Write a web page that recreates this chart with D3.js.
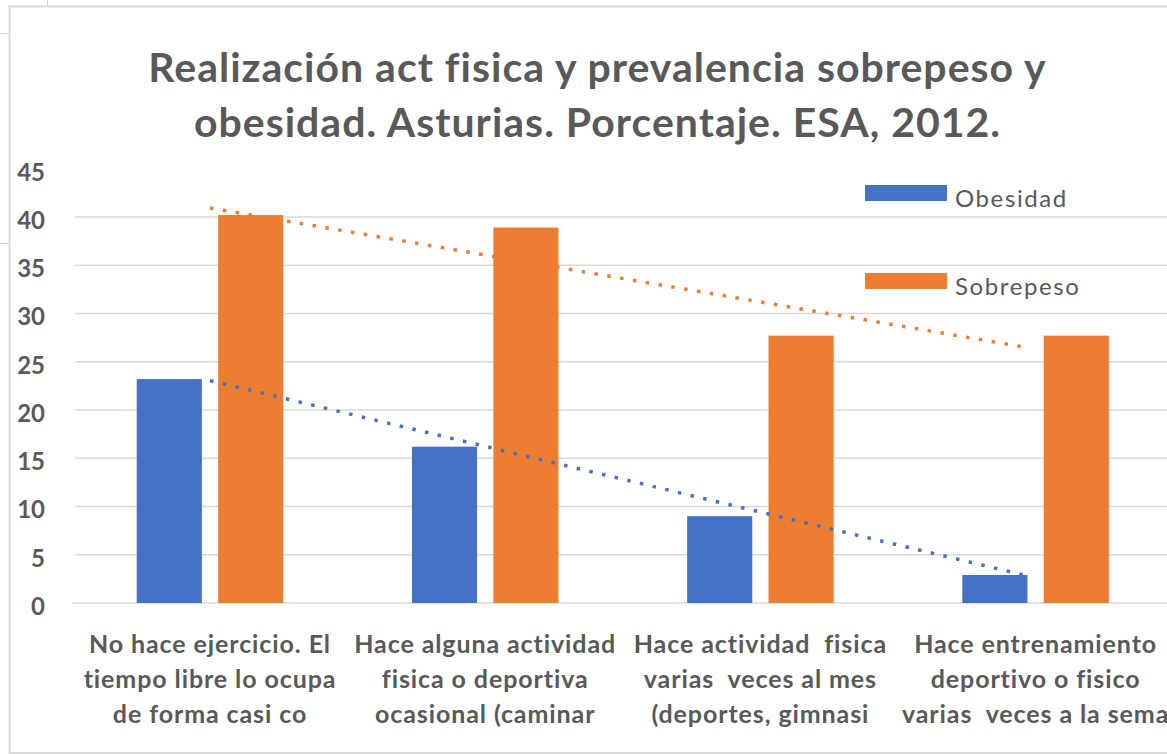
<!DOCTYPE html>
<html>
<head>
<meta charset="utf-8">
<script src="https://cdn.jsdelivr.net/npm/d3@7"></script>
<style>
  html, body { margin: 0; padding: 0; background: #fff; overflow: hidden; }
  svg { display: block; font-family: Lato, "Open Sans", sans-serif; }
</style>
</head>
<body>
<svg id="chart"></svg>
<script>
// data
const categories = [
  ["No hace ejercicio. El", "tiempo libre lo ocupa", "de forma casi co"],
  ["Hace alguna actividad", "fisica o deportiva", "ocasional (caminar"],
  ["Hace actividad  fisica", "varias  veces al mes", "(deportes, gimnasi"],
  ["Hace entrenamiento", "deportivo o fisico", "varias  veces a la sema"]
];
const series = ["Obesidad", "Sobrepeso"];
const obesidad = [23.2, 16.2, 9.0, 2.9];
const sobrepeso = [40.2, 38.9, 27.7, 27.7];
const yTicks = [0, 5, 10, 15, 20, 25, 30, 35, 40, 45];
const titleLines = [
  "Realización act fisica y prevalencia sobrepeso y",
  "obesidad. Asturias. Porcentaje. ESA, 2012."
];

const colors = { Obesidad: "#4472C4", Sobrepeso: "#ED7D31" };
const values = { Obesidad: obesidad, Sobrepeso: sobrepeso };

const width = 1167, height = 754;
const svg = d3.select("#chart").attr("width", width).attr("height", height);

// bits of the spreadsheet behind the chart
const deco = svg.append("g").attr("stroke", "#d4d4d4").attr("stroke-width", 1);
deco.append("line").attr("x1", 47.5).attr("x2", 47.5).attr("y1", 0).attr("y2", 7);
deco.append("line").attr("x1", 0).attr("x2", 10).attr("y1", 33.5).attr("y2", 33.5);
deco.append("line").attr("x1", 0).attr("x2", 10).attr("y1", 243.5).attr("y2", 243.5);

// chart frame
svg.append("rect")
  .attr("x", 9.5).attr("y", 6.5)
  .attr("width", 1200).attr("height", 746.5)
  .attr("fill", "#fff")
  .attr("stroke", "#d9d9d9")
  .attr("stroke-width", 2);

const x0 = d3.scaleBand().domain(d3.range(categories.length)).range([72.4, 1173.2]);
const x1 = d3.scaleBand().domain(series).range([0, x0.bandwidth()])
  .paddingInner(0.2).paddingOuter(0.79);
const y = d3.scaleLinear().domain([0, 45]).range([603, 168.7]);

// gridlines
svg.append("g")
  .selectAll("line")
  .data(yTicks.filter(d => d < 45))
  .enter().append("line")
  .attr("x1", d => d === 0 ? 72 : 75)
  .attr("x2", width)
  .attr("y1", d => y(d))
  .attr("y2", d => y(d))
  .attr("stroke", "#d9d9d9")
  .attr("stroke-width", 1.5);

// y tick labels
svg.append("g")
  .selectAll("text")
  .data(yTicks)
  .enter().append("text")
  .attr("x", 45)
  .attr("y", d => y(d) + 12)
  .attr("text-anchor", "end")
  .attr("fill", "#595959")
  .attr("font-size", 24)
  .attr("font-weight", "bold")
  .text(d => d);

// bars
const groups = svg.append("g")
  .selectAll("g")
  .data(categories)
  .enter().append("g")
  .attr("transform", (d, i) => "translate(" + x0(i) + ",0)");

groups.selectAll("rect")
  .data((d, i) => series.map(s => ({ s: s, v: values[s][i] })))
  .enter().append("rect")
  .attr("x", d => x1(d.s))
  .attr("width", x1.bandwidth())
  .attr("y", d => y(d.v))
  .attr("height", d => y(0) - y(d.v))
  .attr("fill", d => colors[d.s]);

// linear trendlines
series.forEach(s => {
  const vs = values[s];
  const xs = vs.map((v, i) => i + 1);
  const mx = d3.mean(xs), my = d3.mean(vs);
  const slope = d3.sum(xs, (xv, i) => (xv - mx) * (vs[i] - my)) / d3.sum(xs, xv => (xv - mx) * (xv - mx));
  const fit = xv => my + slope * (xv - mx);
  const cx = i => x0(i) + x0.bandwidth() / 2;
  svg.append("line")
    .attr("x1", cx(0)).attr("y1", y(fit(1)))
    .attr("x2", cx(vs.length - 1) - 8).attr("y2", y(fit(vs.length - 8 / x0.bandwidth())))
    .attr("stroke", colors[s])
    .attr("stroke-width", 3.5)
    .attr("stroke-dasharray", "3.5 9.5");
});

// category labels
const catLabels = svg.append("g")
  .selectAll("text")
  .data(categories)
  .enter().append("text")
  .attr("text-anchor", "middle")
  .attr("fill", "#595959")
  .attr("font-size", 25)
  .attr("letter-spacing", 0.9)
  .attr("font-weight", "bold");

catLabels.selectAll("tspan")
  .data((d, i) => d.map(line => ({ line: line, i: i })))
  .enter().append("tspan")
  .attr("x", d => x0(d.i) + x0.bandwidth() / 2)
  .attr("y", (d, j) => 653 + j * 35)
  .attr("xml:space", "preserve")
  .text(d => d.line);

// legend
const legend = svg.append("g").attr("transform", "translate(865,0)");
const legendY = { Obesidad: 185, Sobrepeso: 273 };
series.forEach(s => {
  legend.append("rect")
    .attr("x", 0).attr("y", legendY[s])
    .attr("width", 82).attr("height", 16)
    .attr("fill", colors[s]);
  legend.append("text")
    .attr("x", 90).attr("y", legendY[s] + 22)
    .attr("fill", "#595959")
    .attr("font-size", 24)
    .attr("letter-spacing", 1.6)
    .text(s);
});

// title
svg.append("g")
  .selectAll("text")
  .data(titleLines)
  .enter().append("text")
  .attr("x", 597.5)
  .attr("y", (d, i) => 82 + i * 55)
  .attr("text-anchor", "middle")
  .attr("fill", "#595959")
  .attr("font-size", 41)
  .attr("letter-spacing", 1)
  .attr("font-weight", "bold")
  .text(d => d);
</script>
</body>
</html>
